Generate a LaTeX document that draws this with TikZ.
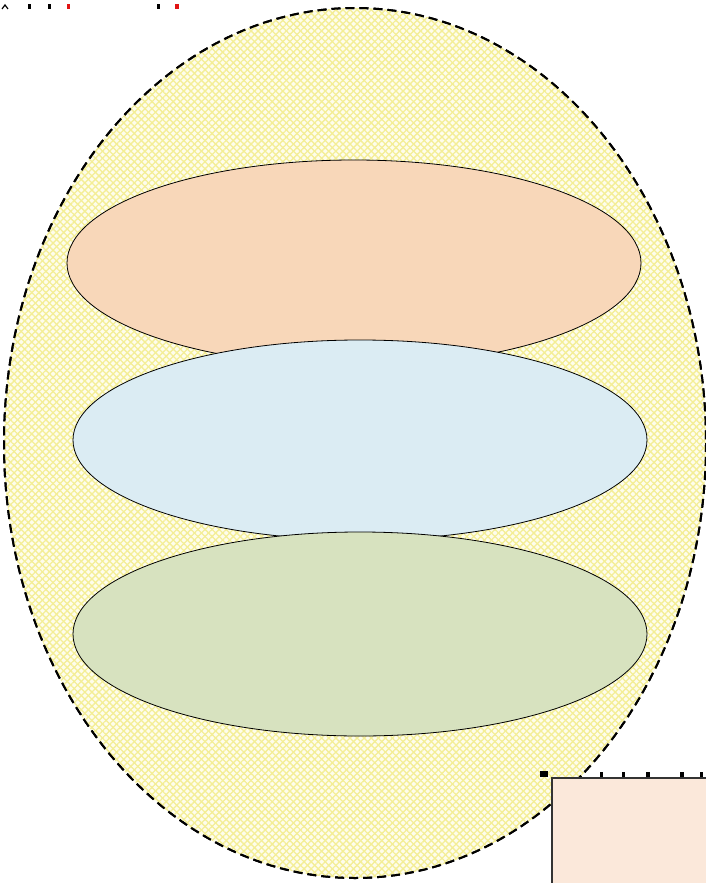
\documentclass[tikz,border=0pt]{standalone}
\usetikzlibrary{patterns.meta}
\definecolor{bgyellow}{RGB}{254,253,236}
\definecolor{hatchyellow}{RGB}{244,238,150}
\definecolor{orangefill}{RGB}{248,215,185}
\definecolor{bluefill}{RGB}{219,236,243}
\definecolor{greenfill}{RGB}{215,226,191}
\definecolor{notefill}{RGB}{251,232,218}
\definecolor{markred}{RGB}{225,20,20}
\tikzset{
  outer/.style={draw=black, line width=2pt, dash pattern=on 9pt off 5pt, fill=bgyellow,
    preaction={fill=bgyellow},
    postaction={pattern={Lines[angle=45,distance=5pt,line width=1.3pt]}, pattern color=hatchyellow},
    postaction={pattern={Lines[angle=-45,distance=5pt,line width=1.3pt]}, pattern color=hatchyellow},
    postaction={draw=black, line width=2pt, dash pattern=on 9pt off 5pt}},
  layer/.style={draw=black, line width=0.8pt},
  notebox/.style={fill=notefill, draw=black!80, line width=1.5pt},
  frag/.style={fill=black},
  fragred/.style={fill=markred}
}
\begin{document}
\begin{tikzpicture}[x=1pt,y=-1pt]
\useasboundingbox (0,0) rectangle (706,883);
\fill[white] (0,0) rectangle (706,883);
% outer ellipse
\path[outer] (355,443) ellipse [x radius=351, y radius=435];
% layers
\path[layer, fill=orangefill] (354,263) ellipse [x radius=287, y radius=103];
\path[layer, fill=bluefill] (360,440) ellipse [x radius=287, y radius=100];
\path[layer, fill=greenfill] (360,634) ellipse [x radius=287, y radius=102];
% note box (clipped at page edge)
\fill[notefill] (552,778) rectangle (706,883);
\draw[black!80, line width=1.5pt] (552,900) -- (552,778) -- (720,778);
% clipped text fragments
\draw[line width=1.2pt] (2,9) -- (5,5) -- (8,9);
\fill[frag] (28,4) rectangle (31,9);
\fill[frag] (48,4) rectangle (51,9);
\fill[fragred] (67,4) rectangle (70,9);
\fill[frag] (157,4) rectangle (160,9);
\fill[fragred] (175,4) rectangle (179,9);
\fill[frag] (540,771) rectangle (548,777);
\fill[frag] (600,772) rectangle (603,777);
\fill[frag] (622,772) rectangle (625,777);
\fill[frag] (646,772) rectangle (650,777);
\fill[frag] (680,772) rectangle (684,777);
\fill[frag] (700,772) rectangle (703,777);
\end{tikzpicture}
\end{document}
